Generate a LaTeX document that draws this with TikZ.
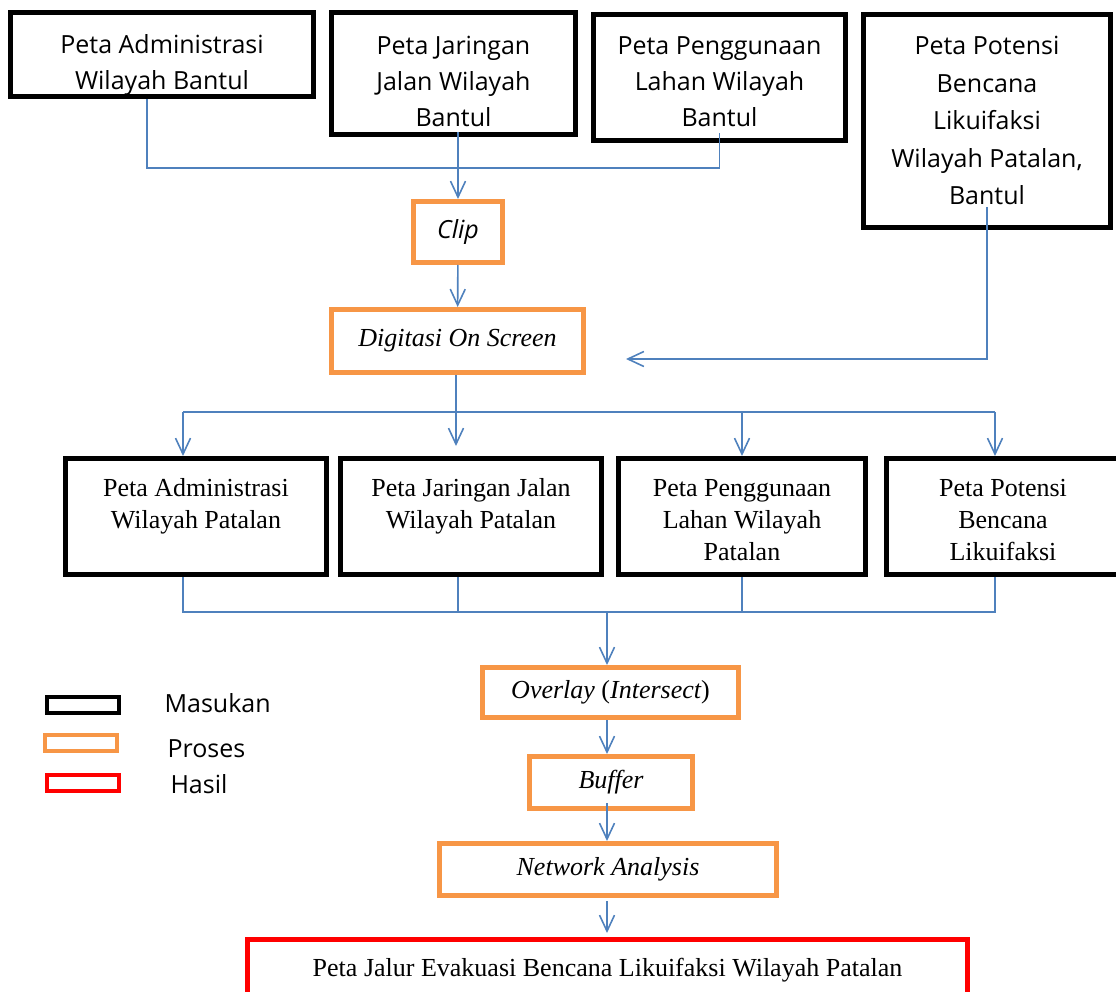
\documentclass[tikz,border=0pt]{standalone}
\usepackage{fontspec}
\setmainfont{Liberation Serif}
\newfontfamily\segoe{Open Sans}
\usetikzlibrary{arrows.meta}
\definecolor{linkblue}{RGB}{79,129,189}
\definecolor{procorange}{RGB}{247,150,70}
\definecolor{resultred}{RGB}{255,0,0}

\begin{document}
\begin{tikzpicture}[x=1pt, y=-1pt,
  inbox/.style={draw, line width=5pt, inner sep=0pt, align=center, anchor=north west},
  topbox/.style={inbox, font=\segoe\fontsize{25}{36}\selectfont},
  midbox/.style={inbox, font=\fontsize{26}{32}\selectfont},
  twolines/.style={text height=69.5pt, text depth=46.5pt},
  threelines/.style={text height=101.5pt, text depth=14.5pt},
  procbox/.style={draw=procorange, line width=5pt, inner sep=0pt, font=\fontsize{26}{32}\selectfont\itshape},
  legbox/.style={line width=4pt, inner sep=0pt, minimum width=72pt, minimum height=16pt},
  leglabel/.style={anchor=base west, font=\segoe\fontsize{25}{30}\selectfont},
  link/.style={draw=linkblue, line width=1.6pt},
  arrow/.style={link, -{Straight Barb[length=16pt, width=15pt]}}]
  \useasboundingbox (0,0) rectangle (1116,992);

  % masukan, wilayah Bantul
  \node [topbox, minimum width=303pt, text height=77.5pt, text depth=6.5pt] (admbtl) at (8,10) {Peta Administrasi\\Wilayah Bantul};
  \node [topbox, minimum width=244pt, text height=114.5pt, text depth=7.5pt] (jlnbtl) at (329,10) {Peta Jaringan\\Jalan Wilayah\\Bantul};
  \node [topbox, minimum width=252pt, text height=112.5pt, text depth=13.5pt] (lhnbtl) at (591,12) {Peta Penggunaan\\Lahan Wilayah\\Bantul};
  \node [topbox, minimum width=247pt, text height=190.5pt, text depth=22.5pt, font=\segoe\fontsize{25}{37.5}\selectfont] (potbtl) at (861,12) {Peta Potensi\\Bencana\\Likuifaksi\\Wilayah Patalan,\\Bantul};

  % proses
  \node [procbox, minimum width=89pt, minimum height=61pt, font=\segoe\fontsize{25}{30}\selectfont\itshape] (clip) at (458,232) {Clip};
  \node [procbox, minimum width=252pt, minimum height=63pt] (digit) at (457.5,341) {Digitasi On Screen};

  % masukan, wilayah Patalan
  \node [midbox, twolines, minimum width=261pt] (admptl) at (63,456) {Peta Administrasi\\Wilayah Patalan};
  \node [midbox, twolines, minimum width=261pt] (jlnptl) at (338,456) {Peta Jaringan Jalan\\Wilayah Patalan};
  \node [midbox, threelines, minimum width=247pt] (lhnptl) at (616,456) {Peta Penggunaan\\Lahan Wilayah\\Patalan};
  \node [midbox, threelines, minimum width=233pt] (potptl) at (884,456) {Peta Potensi\\Bencana\\Likuifaksi};

  \node [procbox, minimum width=256pt, minimum height=50pt] (overlay) at (610.5,692.5) {Overlay {\upshape(}Intersect{\upshape)}};
  \node [procbox, minimum width=163pt, minimum height=52pt] (buffer) at (611,782.5) {Buffer};
  \node [procbox, minimum width=337pt, minimum height=52pt] (netw) at (608,869.5) {Network Analysis};

  % hasil
  \node [draw=resultred, line width=5pt, inner sep=0pt, minimum width=720pt, minimum height=60.5pt,
    font=\fontsize{26}{32}\selectfont] (hasil) at (607.5,969.75) {Peta Jalur Evakuasi Bencana Likuifaksi Wilayah Patalan};

  % legenda
  \node [legbox, draw=black] (legin) at (83,705) {};
  \node [legbox, draw=procorange] (legproc) at (80.5,743) {};
  \node [legbox, draw=resultred] (leghasil) at (83,783) {};
  \node [leglabel] (txtin) at (161,712) {Masukan};
  \node [leglabel] (txtproc) at (164,757) {Proses};
  \node [leglabel] (txthasil) at (167,793) {Hasil};

  % penghubung
  \draw [link] ([xshift=-15pt]admbtl.south) |- ([yshift=-25pt]lhnbtl.south) -- ([yshift=10pt]lhnbtl.south);
  \draw [arrow, shorten <=-5pt] (clip.north |- jlnbtl.south) -- (clip.north);
  \draw [arrow] (clip) -- (digit);
  \coordinate (digitin) at (626,359);
  \draw [arrow] ([yshift=23pt]potbtl.south) |- (digitin);

  \coordinate (splitl) at (183,412);
  \coordinate (splitm) at (456,412);
  \coordinate (splitr) at (995,412);
  \draw [link] (splitl) -- (splitr);
  \draw [arrow, shorten >=10pt] (splitm |- digit.south) -- (splitm |- jlnptl.north);
  \draw [arrow] (splitl) -- (splitl |- admptl.north);
  \draw [arrow] (lhnptl.north |- splitl) -- (lhnptl.north);
  \draw [arrow] (splitr) -- (splitr |- potptl.north);

  \coordinate (joinl) at (183,612);
  \coordinate (joinm) at (458,612);
  \coordinate (joinc) at (607,612);
  \coordinate (joinr) at (995,612);
  \draw [link] (joinl |- admptl.south) -- (joinl) -- (joinr) -- (joinr |- potptl.south);
  \draw [link] (joinm |- jlnptl.south) -- (joinm);
  \draw [link] (lhnptl.south) -- (lhnptl.south |- joinl);
  \draw [arrow] (joinc) -- (joinc |- overlay.north);
  \draw [arrow] (joinc |- overlay.south) -- (joinc |- buffer.north);
  \draw [arrow, shorten <=-8pt] (joinc |- buffer.south) -- (joinc |- netw.north);
  \draw [arrow, shorten <=3pt, shorten >=4pt] (joinc |- netw.south) -- (joinc |- hasil.north);
\end{tikzpicture}
\end{document}
